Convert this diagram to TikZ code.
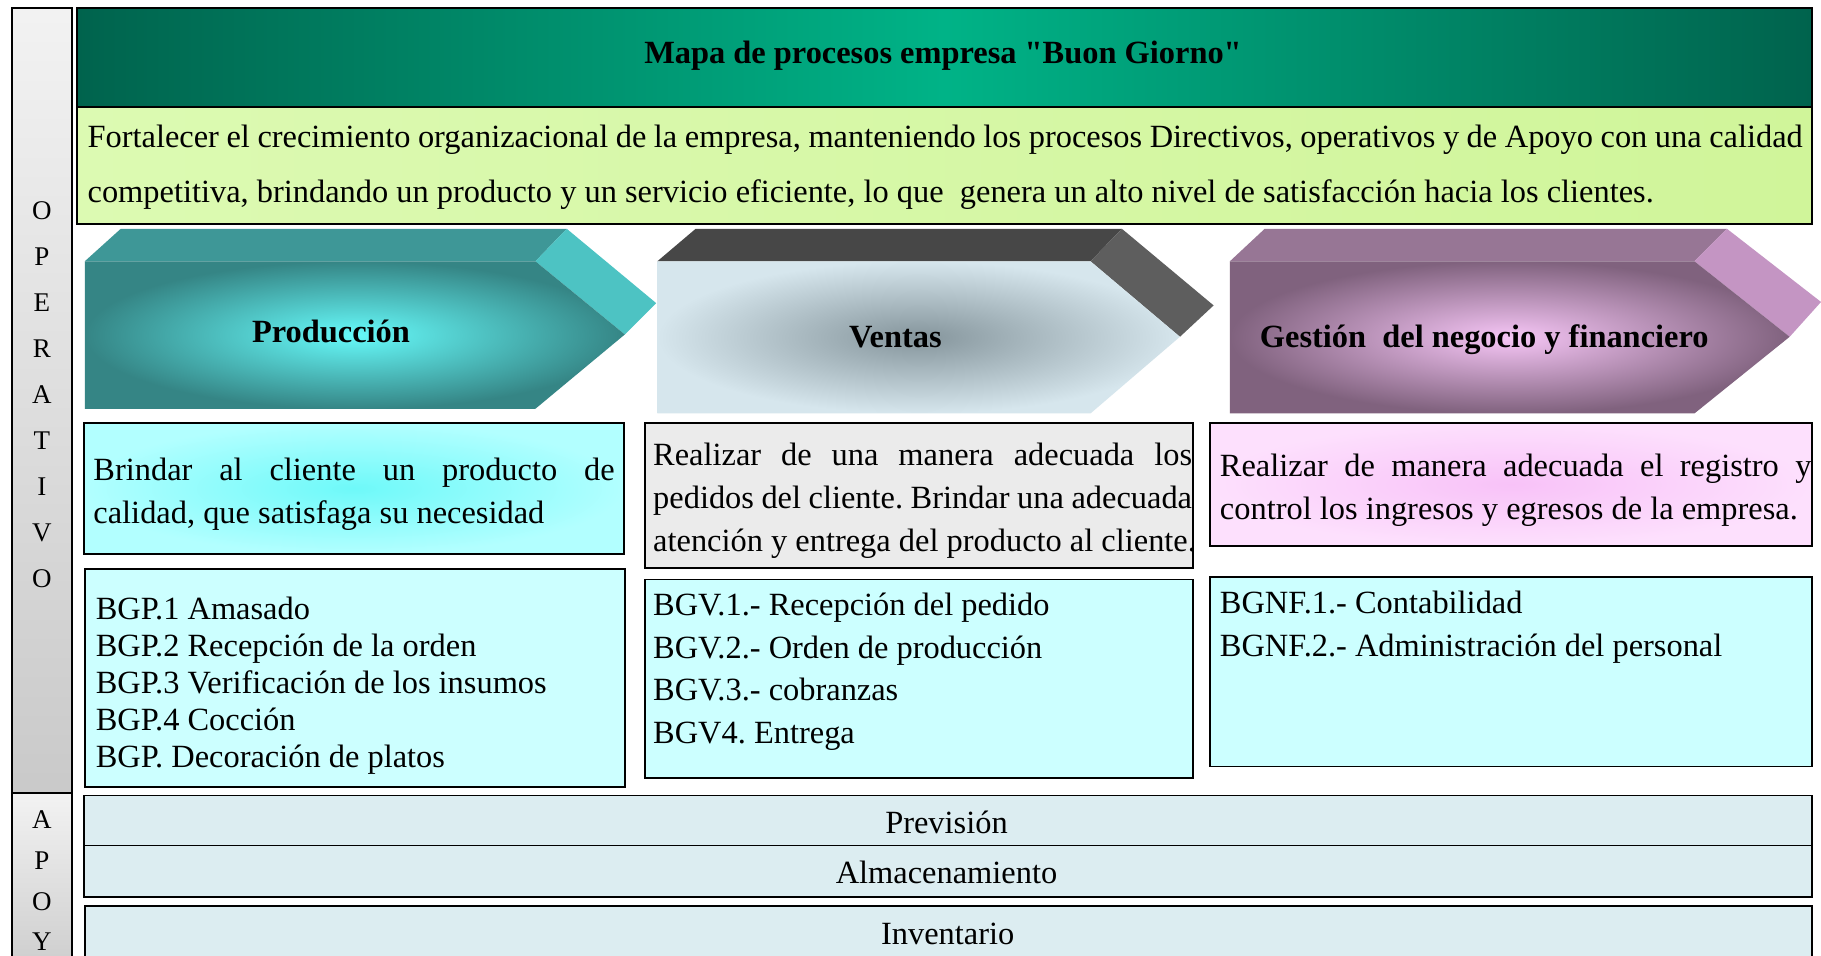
\documentclass[tikz,border=0pt]{standalone}
\usepackage{fontspec}
\setmainfont{Liberation Serif}
\frenchspacing
\newcommand{\straightquote}{\XeTeXglyph\XeTeXcharglyph34\relax}
\begin{document}
\begin{tikzpicture}[
  x=0.43pt,
  y=-0.43pt,
  box/.style={draw=black, line width=0.7pt},
  txt/.style={font=\fontsize{12}{14}\selectfont, inner sep=0pt, anchor=base west},
  head/.style={font=\bfseries\fontsize{12}{14}\selectfont, inner sep=0pt, anchor=base},
  side/.style={font=\fontsize{10}{12}\selectfont, inner sep=0pt}
]

% Colors taken from the original chart
\definecolor{ttlDark}{HTML}{00634D}
\definecolor{ttlLight}{HTML}{00B387}
\definecolor{msnLeft}{HTML}{DCFAB2}
\definecolor{msnRight}{HTML}{D0F59A}
\definecolor{prodTop}{HTML}{3E9797}
\definecolor{prodSide}{HTML}{4DC3C3}
\definecolor{prodIn}{HTML}{66FAFA}
\definecolor{prodOut}{HTML}{358585}
\definecolor{ventTop}{HTML}{474747}
\definecolor{ventSide}{HTML}{5E5E5E}
\definecolor{ventIn}{HTML}{85959C}
\definecolor{ventOut}{HTML}{D6E6ED}
\definecolor{gestTop}{HTML}{977695}
\definecolor{gestSide}{HTML}{C495C3}
\definecolor{gestIn}{HTML}{F6C6F6}
\definecolor{gestOut}{HTML}{80627E}
\definecolor{descProdIn}{HTML}{6EF9F9}
\definecolor{descProdOut}{HTML}{B2FFFF}
\definecolor{descVent}{HTML}{EBEBEB}
\definecolor{descGestIn}{HTML}{F8C2F8}
\definecolor{descGestOut}{HTML}{FDE0FD}
\definecolor{listFill}{HTML}{CCFFFF}
\definecolor{apoyoFill}{HTML}{DCEDF1}

\useasboundingbox (0,0) rectangle (1568,823);
\fill[white] (0,0) rectangle (1568,823);
\clip (0,0) rectangle (1568,823);

% Side band: OPERATIVO / APOYO
\shade[box, top color=gray!10, bottom color=gray!42] (10,7) rectangle (62,683);
\shade[box, top color=gray!10, bottom color=gray!42] (10,683) rectangle (62,850);
\foreach \l [count=\i] in {O,P,E,R,A,T,I,V,O}
  \node[side] (op\i) at (36,141.6+39.6*\i) {\l};
\foreach \l [count=\i] in {A,P,O,Y}
  \node[side] (ap\i) at (36,671+35*\i) {\l};

% Title and mission
\shade[box, line width=0.8pt, left color=ttlDark, right color=ttlDark, middle color=ttlLight] (66,7) rectangle (1560,92);
\node[head] (title) at (812,55) {Mapa de procesos empresa \straightquote Buon Giorno\straightquote};

\shade[box, line width=0.8pt, left color=msnLeft, right color=msnRight] (66,92) rectangle (1560,193);
\node[txt] (msn1) at (75,127) {\makebox[635pt][s]{Fortalecer el crecimiento organizacional de la empresa, manteniendo los procesos Directivos, operativos y de Apoyo con una calidad}};
\node[txt] (msn2) at (75,174) {competitiva, brindando un producto y un servicio eficiente, lo que~ genera un alto nivel de satisfacción hacia los clientes.};

% Process chevrons: top face, side face, front face
\fill[prodTop] (73,225) -- (104,197) -- (488,197) -- (461,225) -- cycle;
\fill[prodSide] (461,225) -- (488,197) -- (565,261) -- (538,288) -- cycle;
\shade[inner color=prodIn, outer color=prodOut] (73,225) -- (461,225) -- (538,288) -- (461,352) -- (73,352) -- cycle;
\node[head] (prod) at (285,295) {Producción};

\fill[ventTop] (566,225) -- (599,197) -- (966,197) -- (939,225) -- cycle;
\fill[ventSide] (939,225) -- (966,197) -- (1045,263) -- (1016,290) -- cycle;
\shade[inner color=ventIn, outer color=ventOut] (566,225) -- (939,225) -- (1016,290) -- (939,356) -- (566,356) -- cycle;
\node[head] (vent) at (771,299) {Ventas};

\fill[gestTop] (1059,225) -- (1089,197) -- (1487,197) -- (1459,225) -- cycle;
\fill[gestSide] (1459,225) -- (1487,197) -- (1568,260) -- (1541,290) -- cycle;
\shade[inner color=gestIn, outer color=gestOut] (1059,225) -- (1459,225) -- (1541,290) -- (1459,356) -- (1059,356) -- cycle;
\node[head] (gest) at (1278,299) {Gestión~ del negocio y financiero};

% Objective of each process
\shade[box, inner color=descProdIn, outer color=descProdOut] (72,364) rectangle (537,477);
\node[txt] (dprod1) at (80,414) {\makebox[193pt][s]{Brindar al cliente un producto de}};
\node[txt] (dprod2) at (80,451) {calidad, que satisfaga su necesidad};

\draw[box, fill=descVent] (555,364) rectangle (1027,489);
\node[txt] (dvent1) at (562,401) {\makebox[199.5pt][s]{Realizar de una manera adecuada los}};
\node[txt] (dvent2) at (562,438) {\makebox[199.5pt][s]{pedidos del cliente. Brindar una adecuada}};
\node[txt] (dvent3) at (562,475) {atención y entrega del producto al cliente.};

\shade[box, inner color=descGestIn, outer color=descGestOut] (1042,364) rectangle (1560,470);
\node[txt] (dgest1) at (1050,410) {\makebox[219pt][s]{Realizar de manera adecuada el registro y}};
\node[txt] (dgest2) at (1050,447) {control los ingresos y egresos de la empresa.};

% Activity lists
\draw[box, fill=listFill] (73,490) rectangle (538,678);
\foreach \act [count=\i] in {BGP.1 Amasado, BGP.2 Recepción de la orden, BGP.3 Verificación de los insumos, BGP.4 Cocción, BGP. Decoración de platos}
  \node[txt] (lprod\i) at (82,501+32*\i) {\act};

\draw[box, fill=listFill] (555,499) rectangle (1027,670);
\foreach \act [count=\i] in {BGV.1.- Recepción del pedido, BGV.2.- Orden de producción, BGV.3.- cobranzas, BGV4. Entrega}
  \node[txt] (lvent\i) at (562,493.3+36.7*\i) {\act};

\draw[box, fill=listFill] (1042,497) rectangle (1560,660);
\foreach \act [count=\i] in {BGNF.1.- Contabilidad, BGNF.2.- Administración del personal}
  \node[txt] (lgest\i) at (1050,491+37*\i) {\act};

% Support processes
\draw[box, fill=apoyoFill] (72,685) rectangle (1560,728);
\node[txt, anchor=base] (prev) at (815,718) {Previsión};
\draw[box, fill=apoyoFill] (72,728) rectangle (1560,772);
\node[txt, anchor=base] (alm) at (815,761) {Almacenamiento};
\draw[box, fill=apoyoFill] (73,780) rectangle (1560,850);
\node[txt, anchor=base] (inv) at (816,813) {Inventario};

\end{tikzpicture}
\end{document}
